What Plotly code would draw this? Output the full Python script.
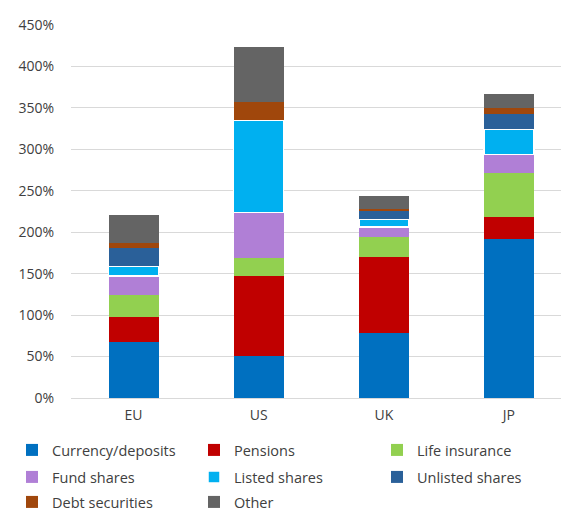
import plotly.graph_objects as go

# Household financial assets by instrument, % of disposable income
regions = ["EU", "US", "UK", "JP"]

currency_deposits = [67.5, 51.0, 78.9, 191.4]
pensions = [29.9, 96.0, 90.7, 26.6]
life_insurance = [27.4, 21.4, 24.5, 53.2]
fund_shares = [22.2, 55.1, 12.1, 22.4]
listed_shares = [12.1, 111.3, 9.7, 30.8]
unlisted_shares = [21.4, 0.0, 10.9, 18.5]
debt_securities = [6.0, 21.8, 1.2, 6.9]
other = [34.3, 67.0, 15.7, 17.3]

y_ticks = [0, 50, 100, 150, 200, 250, 300, 350, 400, 450]

series = [
    ("Currency/deposits", currency_deposits, "#0070C0"),
    ("Pensions", pensions, "#C00000"),
    ("Life insurance", life_insurance, "#92D050"),
    ("Fund shares", fund_shares, "#B07FD6"),
    ("Listed shares", listed_shares, "#00B0F0"),
    ("Unlisted shares", unlisted_shares, "#2A6099"),
    ("Debt securities", debt_securities, "#A0470C"),
    ("Other", other, "#646464"),
]

font_family = "Open Sans"
W, H = 561, 512

# legend grid: three columns, three rows below the axis
col_left = [12, 194, 377]
row_mid = [450, 477, 502]

fig = go.Figure()
legends = {}
for i, (name, vals, col) in enumerate(series):
    line = dict(width=0)
    if name == "Listed shares":
        line = dict(width=1.5, color="white")
    key = "legend" if i == 0 else f"legend{i + 1}"
    fig.add_trace(go.Bar(
        name=name, x=regions, y=vals,
        marker=dict(color=col, line=line),
        width=0.4,
        legend=key,
    ))
    r, c = divmod(i, 3)
    legends[key] = dict(
        orientation="h",
        xref="container", yref="container",
        x=col_left[c] / W, xanchor="left",
        y=1 - row_mid[r] / H, yanchor="middle",
        itemwidth=30,
        font=dict(family=font_family, size=14.5, color="#404040"),
        bgcolor="rgba(0,0,0,0)",
    )

fig.update_layout(
    barmode="stack",
    width=W, height=H,
    margin=dict(l=71, r=0, t=25, b=114),
    paper_bgcolor="white",
    plot_bgcolor="white",
    font=dict(family=font_family, size=14, color="#404040"),
    showlegend=True,
    xaxis=dict(
        range=[-0.5, 3.416],
        showgrid=False,
        showline=True, linecolor="#D9D9D9", linewidth=1,
        ticks="", tickfont=dict(size=14), ticklabelstandoff=4,
    ),
    yaxis=dict(
        range=[0, 450],
        tickvals=y_ticks,
        ticktext=[f"{v}%" for v in y_ticks],
        showgrid=True, gridcolor="#D9D9D9", gridwidth=1,
        zeroline=False,
        showline=False,
        ticks="", ticklabelstandoff=16,
        tickfont=dict(size=14),
    ),
    **legends,
)

fig.write_html("out.html")
